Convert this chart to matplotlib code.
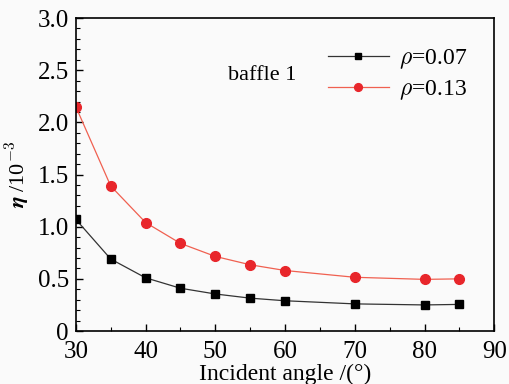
import matplotlib.pyplot as plt
from matplotlib.ticker import MultipleLocator

angle = [30, 35, 40, 45, 50, 55, 60, 70, 80, 85]
eta_007 = [1.07, 0.69, 0.51, 0.41, 0.355, 0.315, 0.29, 0.26, 0.25, 0.255]
eta_013 = [2.15, 1.39, 1.04, 0.84, 0.715, 0.635, 0.58, 0.515, 0.495, 0.50]

plt.rcParams['font.family'] = ['Liberation Serif', 'DejaVu Serif']
plt.rcParams['mathtext.fontset'] = 'cm'

fig = plt.figure(figsize=(5.09, 3.84), dpi=100, facecolor='#fafafa')
ax = fig.add_axes([0.149, 0.138, 0.822, 0.815], facecolor='#fafafa')

ax.plot(angle, eta_007, color='#333333', lw=0.9, marker='s', ms=6,
        mfc='black', mec='black', label=r'$\rho$=0.07')
ax.plot(angle, eta_013, color='#f06050', lw=0.9, marker='o', ms=7,
        mfc='#e8262b', mec='#e8262b', label=r'$\rho$=0.13')

ax.set_xlim(30, 90)
ax.set_ylim(0, 3.0)
ax.xaxis.set_major_locator(MultipleLocator(10))
ax.xaxis.set_minor_locator(MultipleLocator(5))
ax.yaxis.set_minor_locator(MultipleLocator(0.1))
ax.set_yticks([0, 0.5, 1.0, 1.5, 2.0, 2.5, 3.0])
ax.set_yticklabels(['0', '0.5', '1.0', '1.5', '2.0', '2.5', '3.0'])
ax.tick_params(which='both', direction='in', labelsize=18, top=False, right=False)
ax.tick_params(axis='x', pad=7)
ax.tick_params(axis='y', pad=5)
ax.tick_params(which='major', length=5, width=1)
ax.tick_params(which='minor', length=3, width=0.8)
for s in ax.spines.values():
    s.set_linewidth(1.2)

ax.set_xlabel('Incident angle /(°)', fontsize=17, labelpad=1)
ax.set_ylabel(r'$\boldsymbol{\eta}$ /10$^{-3}$', fontsize=16, labelpad=4)

ax.text(51.8, 2.45, 'baffle 1', fontsize=16, va='center')
ax.legend(loc='upper right', bbox_to_anchor=(0.985, 0.975), frameon=False,
          fontsize=17, handlelength=2.6, handletextpad=0.4, labelspacing=0.3,
          markerscale=0.8)

fig.savefig('out.png', dpi=100, facecolor=fig.get_facecolor())
